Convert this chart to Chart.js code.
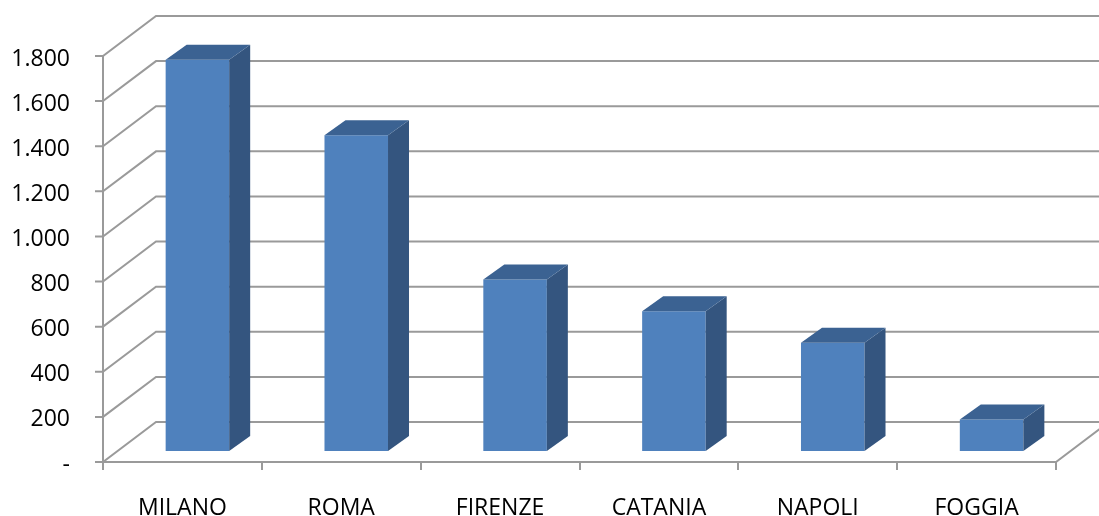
<!DOCTYPE html>
<html>
<head>
<meta charset="utf-8">
<script src="https://cdn.jsdelivr.net/npm/chart.js@4"></script>
<style>
  html, body { margin: 0; padding: 0; background: #fff; }
  #wrap { width: 1099px; height: 516px; }
</style>
</head>
<body>
<div id="wrap"><canvas id="chart"></canvas></div>
<script>
// ---- data ---- //
const cities = ["MILANO", "ROMA", "FIRENZE", "CATANIA", "NAPOLI", "FOGGIA"];
const values = [1735, 1400, 760, 620, 480, 140];
const yTicks = [0, 200, 400, 600, 800, 1000, 1200, 1400, 1600, 1800];

// ---- 3d look ---- //
const DEPTH_X = 53, DEPTH_Y = 40;      // floor / wall depth
const BAR_OFF_X = 15, BAR_OFF_Y = 11;  // where bars sit in the depth
const BAR_D_X = 21, BAR_D_Y = 15;      // bar thickness
const lineColor = "#9a9a9a";

function fmt(v) {
    if (v === 0) return "-";
    return v.toLocaleString("it-IT");
}

const frame3d = {
    id: "frame3d",
    beforeDatasetsDraw(chart) {
        const ctx = chart.ctx;
        const y = chart.scales.y;
        const left = chart.chartArea.left, right = chart.chartArea.right;
        const bottom = y.getPixelForValue(0);
        ctx.save();
        ctx.strokeStyle = lineColor;
        ctx.lineWidth = 2;
        ctx.beginPath();
        yTicks.forEach(v => {
            const py = y.getPixelForValue(v);
            ctx.moveTo(left - 8, py);
            ctx.lineTo(left, py);
            ctx.lineTo(left + DEPTH_X, py - DEPTH_Y);
            ctx.lineTo(chart.width, py - DEPTH_Y);
        });
        // front axis + floor edge
        ctx.moveTo(left, y.getPixelForValue(yTicks[yTicks.length - 1]));
        ctx.lineTo(left, bottom);
        ctx.lineTo(right, bottom);
        ctx.lineTo(right + DEPTH_X, bottom - DEPTH_Y);
        // category ticks
        const step = (right - left) / cities.length;
        for (let i = 0; i <= cities.length; i++) {
            const px = Math.round(left + i * step);
            ctx.moveTo(px, bottom);
            ctx.lineTo(px, bottom + 8);
        }
        ctx.stroke();
        ctx.restore();

        ctx.save();
        ctx.translate(BAR_OFF_X, -BAR_OFF_Y);
    },
    afterDatasetsDraw(chart) {
        const ctx = chart.ctx;
        chart.getDatasetMeta(0).data.forEach(bar => {
            const p = bar.getProps(["x", "y", "width", "base"], true);
            const l = p.x - p.width / 2, r = p.x + p.width / 2;
            const t = p.y, b = p.base;
            // side
            ctx.fillStyle = "#34557f";
            ctx.beginPath();
            ctx.moveTo(r, t);
            ctx.lineTo(r + BAR_D_X, t - BAR_D_Y);
            ctx.lineTo(r + BAR_D_X, b - BAR_D_Y);
            ctx.lineTo(r, b);
            ctx.closePath();
            ctx.fill();
            // top
            ctx.fillStyle = "#3b6292";
            ctx.beginPath();
            ctx.moveTo(l, t);
            ctx.lineTo(l + BAR_D_X, t - BAR_D_Y);
            ctx.lineTo(r + BAR_D_X, t - BAR_D_Y);
            ctx.lineTo(r, t);
            ctx.closePath();
            ctx.fill();
        });
        ctx.restore();
    }
};

new Chart(document.getElementById("chart"), {
    type: "bar",
    data: {
        labels: cities,
        datasets: [{
            data: values,
            backgroundColor: "#4f81bd",
            borderWidth: 0,
            categoryPercentage: 1,
            barPercentage: 0.4,
            clip: false
        }]
    },
    options: {
        responsive: true,
        maintainAspectRatio: false,
        animation: false,
        events: [],
        layout: { padding: { top: 56, right: 43, left: 0, bottom: 0 } },
        plugins: { legend: { display: false }, tooltip: { enabled: false } },
        scales: {
            x: {
                grid: { display: false, drawTicks: false },
                border: { display: false },
                ticks: {
                    color: "#000",
                    padding: 33,
                    maxRotation: 0,
                    font: { family: "'Open Sans'", size: 23 }
                },
                afterFit(s) { s.height = 54; }
            },
            y: {
                min: 0,
                max: 1800,
                grid: { display: false, drawTicks: false },
                border: { display: false },
                ticks: {
                    stepSize: 200,
                    color: "#000",
                    padding: 33,
                    labelOffset: 3,
                    font: { family: "'Open Sans'", size: 23 },
                    callback: v => fmt(v)
                },
                afterFit(s) { s.width = 103; }
            }
        }
    },
    plugins: [frame3d]
});
</script>
</body>
</html>
